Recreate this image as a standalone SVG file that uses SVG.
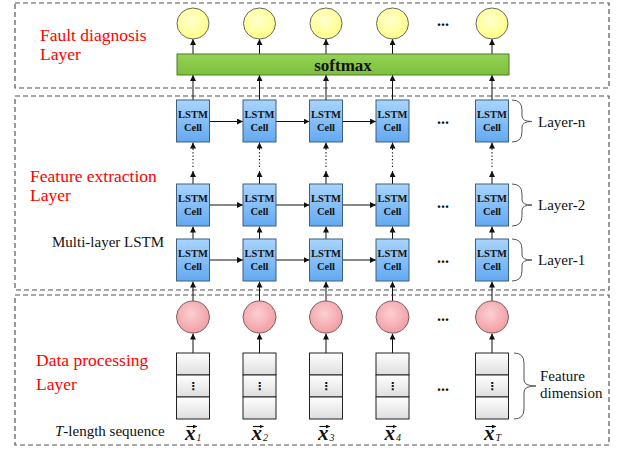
<svg xmlns="http://www.w3.org/2000/svg" width="620" height="450" viewBox="0 0 620 450">
<defs>
<style>
.box{fill:none;stroke:#555;stroke-width:1.2;stroke-dasharray:5,3}
.red{font-family:Liberation Serif,serif;font-size:17.5px;fill:#ff0000}
.lbl{font-family:Liberation Serif,serif;font-size:15px;fill:#111}
.cell{fill:url(#gBlue);stroke:#3d5f80;stroke-width:1}
.ct{font-family:Liberation Serif,serif;font-size:10.5px;font-weight:bold;fill:#111;text-anchor:middle}
.yc{fill:url(#gYel);stroke:#666;stroke-width:1}
.pc{fill:url(#gPink);stroke:#7a6060;stroke-width:1}
.fb{fill:url(#gGrey);stroke:#222;stroke-width:1}
.ar{stroke:#111;stroke-width:1;fill:none;marker-end:url(#ah)}
.vec{stroke:#111;stroke-width:1.1;fill:none;marker-end:url(#ahs)}
.dot{stroke:#111;stroke-width:1.2;fill:none;stroke-dasharray:1.2,2.2}
.br{stroke:#555;stroke-width:1;fill:none}
.ell{font-family:Liberation Serif,serif;font-size:16px;font-weight:bold;fill:#111;text-anchor:middle}
.xv{font-family:Liberation Serif,serif;font-size:21px;font-weight:bold;font-style:italic;fill:#111}
.sub{font-size:10px;font-weight:normal}
.vd{font-family:DejaVu Sans,sans-serif;font-size:11px;font-weight:bold;fill:#111;text-anchor:middle}
</style>
<marker id="ah" viewBox="0 0 6 6" refX="6" refY="3" markerWidth="6" markerHeight="6" markerUnits="userSpaceOnUse" orient="auto">
<path d="M0,0 L6,3 L0,6 z" fill="#111"/>
</marker>
<marker id="ahs" viewBox="0 0 6 6" refX="6" refY="3" markerWidth="4" markerHeight="4" markerUnits="userSpaceOnUse" orient="auto">
<path d="M0,0 L6,3 L0,6 z" fill="#111"/>
</marker>
<linearGradient id="gBlue" x1="0" y1="0" x2="0" y2="1">
<stop offset="0" stop-color="#a9d4fc"/>
<stop offset="1" stop-color="#62a9f2"/>
</linearGradient>
<linearGradient id="gGreen" x1="0" y1="0" x2="0" y2="1">
<stop offset="0" stop-color="#95d255"/>
<stop offset="1" stop-color="#7cc03e"/>
</linearGradient>
<radialGradient id="gYel" cx="0.45" cy="0.4" r="0.6">
<stop offset="0" stop-color="#ffffd0"/>
<stop offset="1" stop-color="#ffff85"/>
</radialGradient>
<radialGradient id="gPink" cx="0.45" cy="0.4" r="0.6">
<stop offset="0" stop-color="#fccfd2"/>
<stop offset="1" stop-color="#f29ea4"/>
</radialGradient>
<linearGradient id="gGrey" x1="0" y1="0" x2="0" y2="1">
<stop offset="0" stop-color="#ffffff"/>
<stop offset="1" stop-color="#dedede"/>
</linearGradient>
</defs>
<rect width="620" height="450" fill="#ffffff"/>

<g id="layer-boxes">
<rect class="box" x="15" y="3" width="594" height="85"/>
<rect class="box" x="15" y="96" width="594" height="194"/>
<rect class="box" x="15" y="295" width="594" height="150"/>
</g>

<g id="layer-titles">
<text class="red" x="40" y="41">Fault diagnosis</text>
<text class="red" x="40" y="60">Layer</text>
<text class="red" x="30" y="182">Feature extraction</text>
<text class="red" x="30" y="201">Layer</text>
<text class="red" x="36" y="366">Data processing</text>
<text class="red" x="36" y="390">Layer</text>
<text class="lbl" x="52" y="247">Multi-layer LSTM</text>
<text class="lbl" x="55" y="436"><tspan font-style="italic">T</tspan>-length sequence</text>
</g>

<g id="connectors">
<path class="ar" d="M193,54 V39"/><path class="ar" d="M259.5,54 V39"/><path class="ar" d="M326,54 V39"/><path class="ar" d="M392.5,54 V39"/><path class="ar" d="M492,54 V39"/>
<path class="ar" d="M193,100 V75"/><path class="ar" d="M259.5,100 V75"/><path class="ar" d="M326,100 V75"/><path class="ar" d="M392.5,100 V75"/><path class="ar" d="M492,100 V75"/>
<path class="ar" d="M193,184 V171"/><path class="dot" d="M193,167 V152"/><path class="ar" d="M193,150 V142.5"/>
<path class="ar" d="M259.5,184 V171"/><path class="dot" d="M259.5,167 V152"/><path class="ar" d="M259.5,150 V142.5"/>
<path class="ar" d="M326,184 V171"/><path class="dot" d="M326,167 V152"/><path class="ar" d="M326,150 V142.5"/>
<path class="ar" d="M392.5,184 V171"/><path class="dot" d="M392.5,167 V152"/><path class="ar" d="M392.5,150 V142.5"/>
<path class="ar" d="M492,184 V171"/><path class="dot" d="M492,167 V152"/><path class="ar" d="M492,150 V142.5"/>
<path class="ar" d="M193,239 V226.5"/><path class="ar" d="M259.5,239 V226.5"/><path class="ar" d="M326,239 V226.5"/><path class="ar" d="M392.5,239 V226.5"/><path class="ar" d="M492,239 V226.5"/>
<path class="ar" d="M193,301 V281.5"/><path class="ar" d="M259.5,301 V281.5"/><path class="ar" d="M326,301 V281.5"/><path class="ar" d="M392.5,301 V281.5"/><path class="ar" d="M492,301 V281.5"/>
<path class="ar" d="M193,353 V333.5"/><path class="ar" d="M259.5,353 V333.5"/><path class="ar" d="M326,353 V333.5"/><path class="ar" d="M392.5,353 V333.5"/><path class="ar" d="M492,353 V333.5"/>
<path class="ar" d="M209.5,121.5 H243"/><path class="ar" d="M276,121.5 H309.5"/><path class="ar" d="M342.5,121.5 H376"/>
<path class="ar" d="M209.5,205 H243"/><path class="ar" d="M276,205 H309.5"/><path class="ar" d="M342.5,205 H376"/>
<path class="ar" d="M209.5,260 H243"/><path class="ar" d="M276,260 H309.5"/><path class="ar" d="M342.5,260 H376"/>
</g>

<g id="softmax">
<rect x="177" y="54" width="332" height="21" fill="url(#gGreen)" stroke="#4f7a28" stroke-width="1"/>
<text x="343" y="70.5" font-family="Liberation Serif, serif" font-size="17" font-weight="bold" fill="#111" text-anchor="middle">softmax</text>
</g>

<g id="outputs">
<ellipse class="yc" cx="193" cy="23.5" rx="16" ry="15.5"/>
<ellipse class="yc" cx="259.5" cy="23.5" rx="16" ry="15.5"/>
<ellipse class="yc" cx="326" cy="23.5" rx="16" ry="15.5"/>
<ellipse class="yc" cx="392.5" cy="23.5" rx="16" ry="15.5"/>
<ellipse class="yc" cx="492" cy="23.5" rx="16" ry="15.5"/>
<text class="ell" x="443" y="26">...</text>
</g>

<g id="lstm-layer-n">
<rect class="cell" x="176.5" y="100" width="33" height="42"/><text class="ct" x="193" y="118">LSTM</text><text class="ct" x="193" y="130.5">Cell</text>
<rect class="cell" x="243" y="100" width="33" height="42"/><text class="ct" x="259.5" y="118">LSTM</text><text class="ct" x="259.5" y="130.5">Cell</text>
<rect class="cell" x="309.5" y="100" width="33" height="42"/><text class="ct" x="326" y="118">LSTM</text><text class="ct" x="326" y="130.5">Cell</text>
<rect class="cell" x="376" y="100" width="33" height="42"/><text class="ct" x="392.5" y="118">LSTM</text><text class="ct" x="392.5" y="130.5">Cell</text>
<rect class="cell" x="475.5" y="100" width="33" height="42"/><text class="ct" x="492" y="118">LSTM</text><text class="ct" x="492" y="130.5">Cell</text>
<text class="ell" x="443" y="124">...</text>
<path class="br" d="M512,100 Q522,100 522,110 V116 Q522,121.5 532,121.5 Q522,121.5 522,127 V132 Q522,142 512,142"/>
<text class="lbl" x="538" y="127">Layer-n</text>
</g>

<g id="lstm-layer-2">
<rect class="cell" x="176.5" y="184" width="33" height="42"/><text class="ct" x="193" y="202">LSTM</text><text class="ct" x="193" y="214.5">Cell</text>
<rect class="cell" x="243" y="184" width="33" height="42"/><text class="ct" x="259.5" y="202">LSTM</text><text class="ct" x="259.5" y="214.5">Cell</text>
<rect class="cell" x="309.5" y="184" width="33" height="42"/><text class="ct" x="326" y="202">LSTM</text><text class="ct" x="326" y="214.5">Cell</text>
<rect class="cell" x="376" y="184" width="33" height="42"/><text class="ct" x="392.5" y="202">LSTM</text><text class="ct" x="392.5" y="214.5">Cell</text>
<rect class="cell" x="475.5" y="184" width="33" height="42"/><text class="ct" x="492" y="202">LSTM</text><text class="ct" x="492" y="214.5">Cell</text>
<text class="ell" x="443" y="208">...</text>
<path class="br" d="M512,184 Q522,184 522,194 V200 Q522,205 532,205 Q522,205 522,210 V216 Q522,226 512,226"/>
<text class="lbl" x="538" y="210">Layer-2</text>
</g>

<g id="lstm-layer-1">
<rect class="cell" x="176.5" y="239" width="33" height="42"/><text class="ct" x="193" y="257">LSTM</text><text class="ct" x="193" y="269.5">Cell</text>
<rect class="cell" x="243" y="239" width="33" height="42"/><text class="ct" x="259.5" y="257">LSTM</text><text class="ct" x="259.5" y="269.5">Cell</text>
<rect class="cell" x="309.5" y="239" width="33" height="42"/><text class="ct" x="326" y="257">LSTM</text><text class="ct" x="326" y="269.5">Cell</text>
<rect class="cell" x="376" y="239" width="33" height="42"/><text class="ct" x="392.5" y="257">LSTM</text><text class="ct" x="392.5" y="269.5">Cell</text>
<rect class="cell" x="475.5" y="239" width="33" height="42"/><text class="ct" x="492" y="257">LSTM</text><text class="ct" x="492" y="269.5">Cell</text>
<text class="ell" x="443" y="263">...</text>
<path class="br" d="M512,239 Q522,239 522,249 V255 Q522,260 532,260 Q522,260 522,265 V271 Q522,281 512,281"/>
<text class="lbl" x="538" y="265">Layer-1</text>
</g>

<g id="input-nodes">
<ellipse class="pc" cx="193" cy="317" rx="16.5" ry="16"/>
<ellipse class="pc" cx="259.5" cy="317" rx="16.5" ry="16"/>
<ellipse class="pc" cx="326" cy="317" rx="16.5" ry="16"/>
<ellipse class="pc" cx="392.5" cy="317" rx="16.5" ry="16"/>
<ellipse class="pc" cx="492" cy="317" rx="16.5" ry="16"/>
<text class="ell" x="443" y="321">...</text>
</g>

<g id="feature-vectors">
<g id="x1"><rect class="fb" x="176.5" y="353" width="33" height="22"/><rect class="fb" x="176.5" y="375" width="33" height="22"/><rect class="fb" x="176.5" y="397" width="33" height="22"/><text class="vd" x="193" y="390">⋮</text></g>
<g id="x2"><rect class="fb" x="243" y="353" width="33" height="22"/><rect class="fb" x="243" y="375" width="33" height="22"/><rect class="fb" x="243" y="397" width="33" height="22"/><text class="vd" x="259.5" y="390">⋮</text></g>
<g id="x3"><rect class="fb" x="309.5" y="353" width="33" height="22"/><rect class="fb" x="309.5" y="375" width="33" height="22"/><rect class="fb" x="309.5" y="397" width="33" height="22"/><text class="vd" x="326" y="390">⋮</text></g>
<g id="x4"><rect class="fb" x="376" y="353" width="33" height="22"/><rect class="fb" x="376" y="375" width="33" height="22"/><rect class="fb" x="376" y="397" width="33" height="22"/><text class="vd" x="392.5" y="390">⋮</text></g>
<g id="xT"><rect class="fb" x="475.5" y="353" width="33" height="22"/><rect class="fb" x="475.5" y="375" width="33" height="22"/><rect class="fb" x="475.5" y="397" width="33" height="22"/><text class="vd" x="492" y="390">⋮</text></g>
<text class="ell" x="443" y="391">...</text>
<path class="br" d="M514,353 Q524,353 524,363 V380 Q524,386 536,386 Q524,386 524,392 V409 Q524,419 514,419"/>
<text class="lbl" x="540" y="381">Feature</text>
<text class="lbl" x="540" y="398">dimension</text>
</g>

<g id="sequence-labels">
<text class="xv" x="185" y="440">x<tspan class="sub" dx="1" dy="1">1</tspan></text>
<text class="xv" x="251.5" y="440">x<tspan class="sub" dx="1" dy="1">2</tspan></text>
<text class="xv" x="318" y="440">x<tspan class="sub" dx="1" dy="1">3</tspan></text>
<text class="xv" x="384.5" y="440">x<tspan class="sub" dx="1" dy="1">4</tspan></text>
<text class="xv" x="484" y="440">x<tspan class="sub" dx="1" dy="1">T</tspan></text>
<path class="vec" d="M186.5,426.5 H197"/>
<path class="vec" d="M253,426.5 H263.5"/>
<path class="vec" d="M319.5,426.5 H330"/>
<path class="vec" d="M386,426.5 H396.5"/>
<path class="vec" d="M485.5,426.5 H496"/>
</g>
</svg>
